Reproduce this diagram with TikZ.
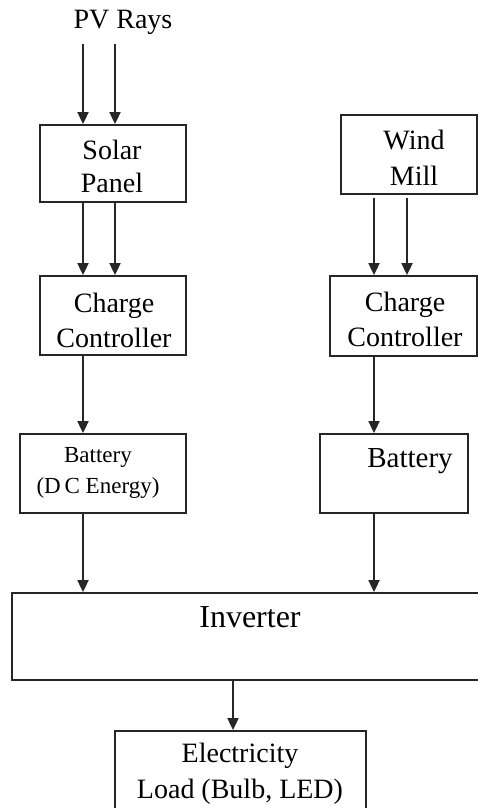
\documentclass[tikz,border=0pt]{standalone}
\usepackage{fontspec}
\setmainfont{Liberation Serif}
\usetikzlibrary{arrows.meta}
\begin{document}
\begin{tikzpicture}[x=1pt,y=-1pt,
  box/.style n args={2}{draw=black!85, line width=1.8pt, inner sep=0pt,
    minimum width=#1pt, minimum height=#2pt},
  txt/.style={inner sep=0pt, align=center, text=black},
  arr/.style={draw=black!85, line width=1.8pt, -{Triangle[length=12pt,width=11pt]}}]
\useasboundingbox (0,0) rectangle (478,808);
\clip (0,0) rectangle (478,808);
% arrow x positions
\coordinate (xa) at (83,0);
\coordinate (xb) at (115,0);
\coordinate (xc) at (374,0);
\coordinate (xd) at (407,0);
\coordinate (xe) at (233,0);
% boxes
\node[box={146}{77}] (solar) at (113,163.5) {};
\node[box={146}{79}] (ccl) at (113,315.5) {};
\node[box={166}{79}] (batl) at (103,473.5) {};
\node[box={136}{79}] (wind) at (409,154.5) {};
\node[box={147}{80}] (ccr) at (403.5,316) {};
\node[box={148}{79}] (batr) at (394,473.5) {};
\node[box={508}{87}] (inv) at (266,636.5) {};
\node[box={251}{99}] (load) at (240.5,780.5) {};
% texts
\node[txt, font=\fontsize{28}{33}\selectfont] (pv) at (123,22) {PV Rays};
\coordinate (pvb) at (123,44);
\node[txt, font=\fontsize{28}{33}\selectfont] at (112,166) {Solar\\Panel};
\node[txt, font=\fontsize{28}{35}\selectfont] at (114,320) {Charge\\Controller};
\node[txt, font=\fontsize{23}{31}\selectfont] at (98,473) {Battery\\(D\,C Energy)};
\node[txt, font=\fontsize{28}{36}\selectfont] at (414,158) {Wind\\Mill};
\node[txt, font=\fontsize{28}{35}\selectfont] at (405,319.5) {Charge\\Controller};
\node[txt, font=\fontsize{29}{35}\selectfont] at (410,461) {Battery};
\node[txt, font=\fontsize{32}{38}\selectfont] at (250,617) {Inverter};
\node[txt, font=\fontsize{28}{36}\selectfont] at (240,774) {Electricity\\Load (Bulb, LED)};
% connectors
\draw[arr] (pvb -| xa) -- (solar.north -| xa);
\draw[arr] (pvb -| xb) -- (solar.north -| xb);
\draw[arr] (solar.south -| xa) -- (ccl.north -| xa);
\draw[arr] (solar.south -| xb) -- (ccl.north -| xb);
\draw[arr] (ccl.south -| xa) -- (batl.north -| xa);
\draw[arr] (batl.south -| xa) -- (inv.north -| xa);
\draw[arr, shorten <=3pt] (wind.south -| xc) -- (ccr.north -| xc);
\draw[arr, shorten <=3pt] (wind.south -| xd) -- (ccr.north -| xd);
\draw[arr] (ccr.south -| xc) -- (batr.north -| xc);
\draw[arr] (batr.south -| xc) -- (inv.north -| xc);
\draw[arr] (inv.south -| xe) -- (load.north -| xe);
\end{tikzpicture}
\end{document}
